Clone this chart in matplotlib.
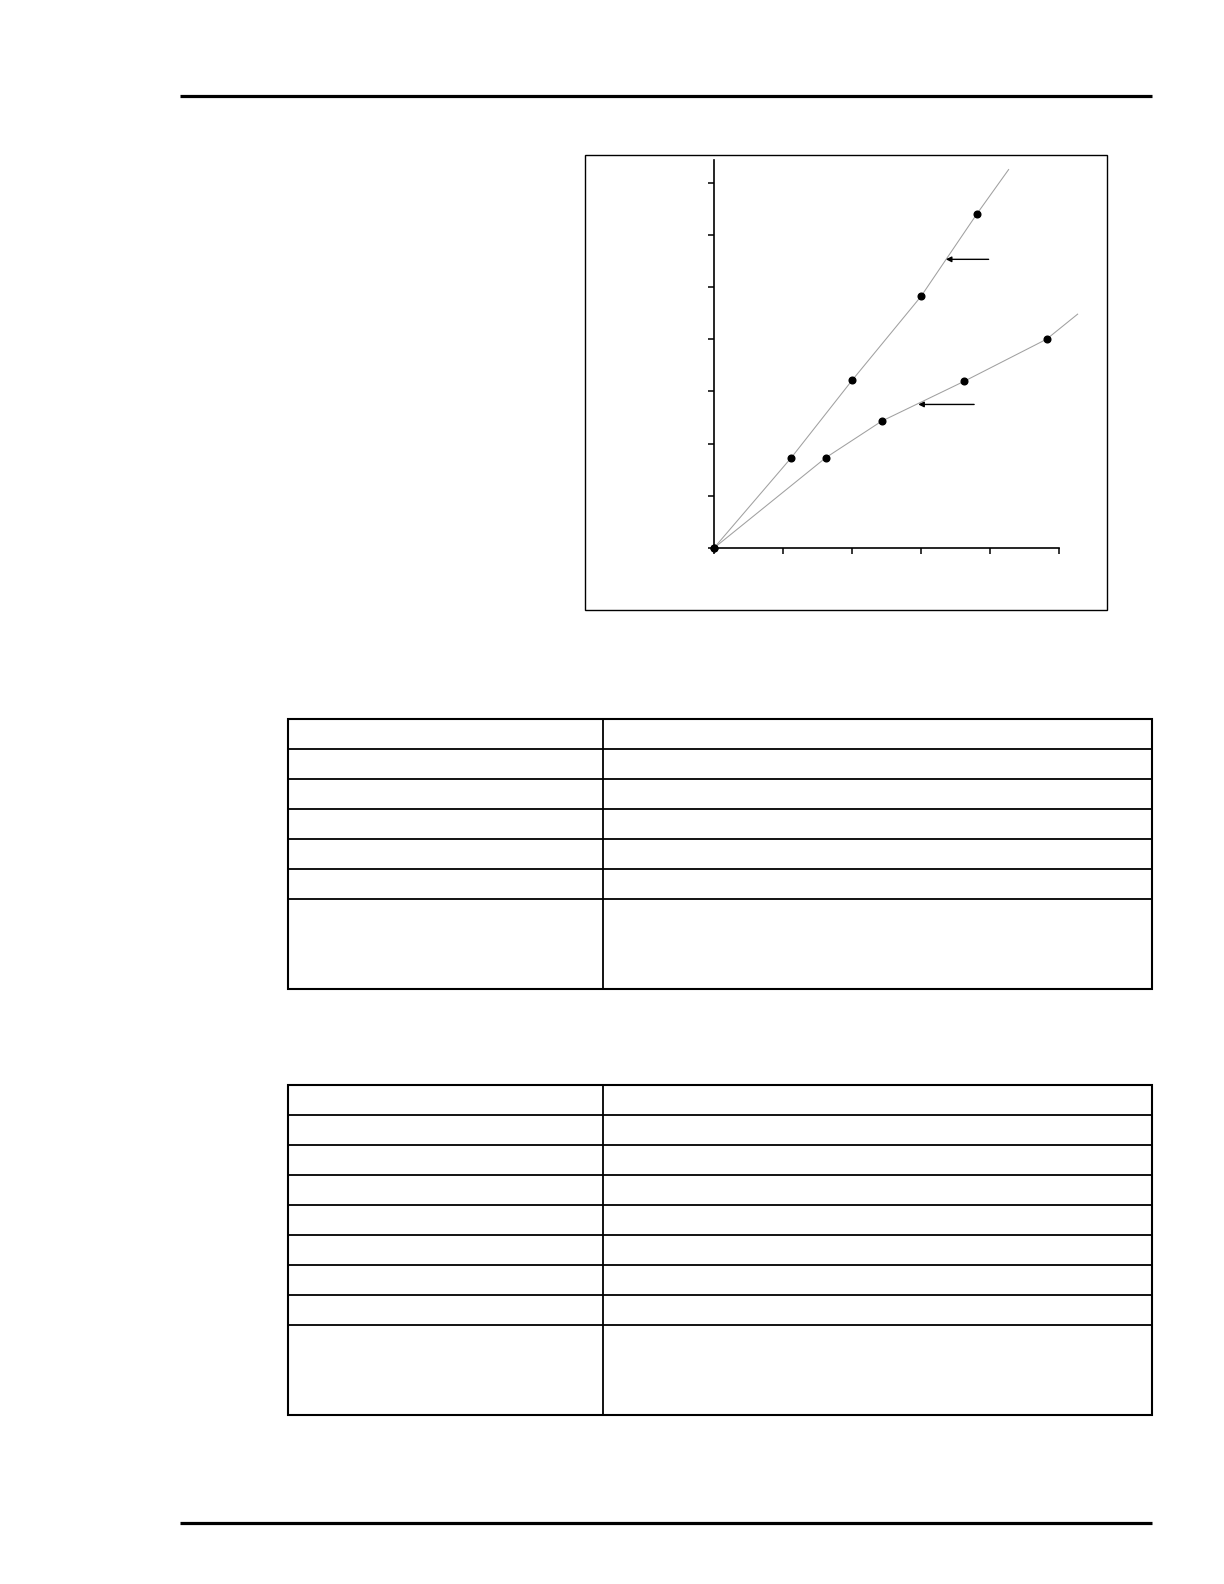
import matplotlib
matplotlib.use("Agg")
import matplotlib.pyplot as plt
from matplotlib.patches import Rectangle

upper_x = [0.0, 1.12, 2.0, 3.0, 3.81]
upper_y = [0.0, 1.73, 3.21, 4.82, 6.40]
lower_x = [0.0, 1.62, 2.43, 3.62, 4.82]
lower_y = [0.0, 1.73, 2.43, 3.19, 4.00]

# where the drawn curves run out past the last point
upper_end = (4.27, 7.25)
lower_end = (5.27, 4.48)

x_ticks = [0, 1, 2, 3, 4, 5]
y_ticks = [0, 1, 2, 3, 4, 5, 6, 7]

W, H = 1224, 1584
fig = plt.figure(figsize=(W / 100, H / 100), dpi=100)

# page layer in pixel coordinates
page = fig.add_axes([0, 0, 1, 1])
page.set_xlim(0, W)
page.set_ylim(H, 0)
page.axis("off")

# header and footer rules
page.plot([180, 1152], [96, 96], color="k", lw=2.3, solid_capstyle="butt")
page.plot([180, 1152], [1523, 1523], color="k", lw=2.3, solid_capstyle="butt")

# frame around the chart
page.add_patch(Rectangle((585, 155), 522, 455, fill=False, ec="k", lw=1.0))


def draw_table(top, row_heights, left=288, mid=603, right=1152):
    ys = [top]
    for h in row_heights:
        ys.append(ys[-1] + h)
    for y in ys[1:-1]:
        page.plot([left, right], [y, y], color="k", lw=1.3)
    page.plot([mid, mid], [ys[0], ys[-1]], color="k", lw=1.3)
    page.add_patch(Rectangle((left, ys[0]), right - left, ys[-1] - ys[0],
                             fill=False, ec="k", lw=1.5))


draw_table(719, [30] * 6 + [90])
draw_table(1085, [30] * 8 + [90])

# chart axes: x 0..5 -> 714..1059 px, y 0..7 -> 548..182 px
px_x, px_y = 69.0, 52.2
x0, y0 = 714, 548
xmax, ymax = 5.3, 7.45
ax = fig.add_axes([x0 / W, (H - y0) / H, xmax * px_x / W, ymax * px_y / H])
ax.set_xlim(0, xmax)
ax.set_ylim(0, ymax)
ax.patch.set_alpha(0)

ax.plot(upper_x + [upper_end[0]], upper_y + [upper_end[1]],
        color="#a0a0a0", lw=0.75, clip_on=False)
ax.plot(lower_x + [lower_end[0]], lower_y + [lower_end[1]],
        color="#a0a0a0", lw=0.75, clip_on=False)
ax.plot(upper_x, upper_y, "o", color="k", ms=4.8, clip_on=False, zorder=3)
ax.plot(lower_x, lower_y, "o", color="k", ms=4.8, clip_on=False, zorder=3)

# pointer arrows to the two curves
arrow = dict(arrowstyle="-|>", color="k", lw=1.0, mutation_scale=8,
             shrinkA=0, shrinkB=0)
ax.annotate("", xy=(3.36, 5.53), xytext=(3.98, 5.53), arrowprops=arrow)
ax.annotate("", xy=(2.96, 2.75), xytext=(3.77, 2.75), arrowprops=arrow)

for s in ["top", "right"]:
    ax.spines[s].set_visible(False)
ax.spines["bottom"].set_bounds(0, 5)
ax.spines["left"].set_bounds(0, 7.43)
for s in ["bottom", "left"]:
    ax.spines[s].set_linewidth(1.2)
ax.set_xticks(x_ticks)
ax.set_yticks(y_ticks)
ax.set_xticklabels([])
ax.set_yticklabels([])
ax.tick_params(direction="out", length=4.3, width=1.1, color="k")

fig.savefig("out.png", dpi=100)
